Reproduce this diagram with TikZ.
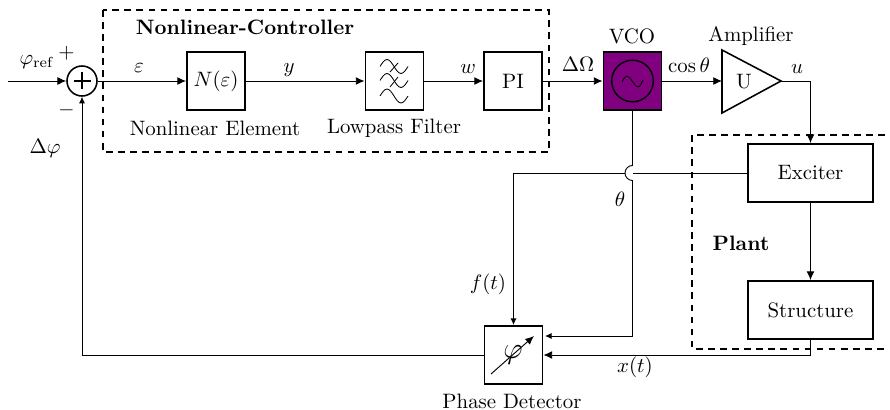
\documentclass[tikz,border=0pt]{standalone}
\usetikzlibrary{arrows.meta,positioning,calc}
\tikzset{
  x=0.48pt,y=-0.48pt,
  block/.style={draw,line width=0.75pt,inner sep=0pt,minimum width=28pt,minimum height=28pt,anchor=center},
  wide/.style={block,minimum width=60pt},
  conn/.style={line width=0.45pt,-{Latex[length=4.2pt,width=3.8pt]}},
  smallconn/.style={line width=0.45pt,-{Latex[length=3.2pt,width=3pt]}},
  plain/.style={line width=0.45pt},
  frame/.style={line width=0.6pt,dash pattern=on 3.2pt off 2.6pt},
  lbl/.style={inner sep=0pt,anchor=center},
  wave/.style={line width=0.4pt}
}
\newcommand{\swave}[2]{%
  \draw[wave] (#1-14,#2) sin (#1-7,#2-7) cos (#1,#2) sin (#1+7,#2+7) cos (#1+14,#2);}
\begin{document}
\begin{tikzpicture}
\useasboundingbox (0,0) rectangle (890,410);
% frames
\draw[frame] (103,10) rectangle (549,152);
\draw[frame] (885,135) -- (692,135) -- (692,349) -- (885,349);
% nodes
\node[draw,circle,line width=0.75pt,minimum size=14.4pt,inner sep=0pt] (sum) at (82,81) {};
\draw[line width=0.75pt] (73.5,81) -- (90.5,81) (82,72.5) -- (82,89.5);
\node[block] (nl) at (216,81) {$N(\varepsilon)$};
\node[block] (lp) at (394.5,81) {};
\node[block] (pi) at (513,81) {PI};
\node[block,fill={rgb:red,128;green,0;blue,128}] (vco) at (632.5,81) {};
\node[draw,circle,line width=0.7pt,minimum size=20pt,inner sep=0pt] (osc) at (632.5,81) {};
\draw[wave] (622,82) sin (627,76) cos (632.5,81.5) sin (638,87) cos (643,80);
\coordinate (ampA) at (722,50);
\coordinate (ampB) at (722,113);
\coordinate (ampC) at (781,81);
\draw[line width=0.75pt,line join=miter] (ampA) -- (ampC) -- (ampB) -- cycle;
\coordinate (ampIn) at (722,81);
\node[lbl] (ampU) at (744,82) {U};
\node[wide] (exc) at (810.5,173) {Exciter};
\node[wide] (str) at (810.5,310) {Structure};
\node[block] (pd) at (513.5,355) {};
% lowpass symbol
\swave{394}{66.5}
\swave{394}{80.5}
\swave{394}{96}
\draw[wave] (390,72) -- (398,63);
\draw[wave] (390,87) -- (398,77);
% phase detector symbol
\node[lbl] (phisym) at (513,355) {\Large$\varphi$};
\coordinate (pdA) at (491,374);
\coordinate (pdB) at (534,336);
\draw[line width=0.45pt,-{Latex[length=4.2pt,width=3.6pt]}] (pdA) -- (pdB);
% connectors
\coordinate (in) at (8,81);
\draw[conn] (in) -- (sum);
\draw[conn] (sum) -- (nl);
\draw[conn] (nl) -- (lp);
\draw[conn] (lp) -- (pi);
\draw[conn] (pi) -- (vco);
\draw[conn] (vco) -- (ampIn);
\coordinate (excIn) at (810.5,81);
\draw[conn] (ampC) -- (excIn) -- (exc.north);
\draw[conn] (exc) -- (str);
\coordinate (f1) at (513.5,173);
\coordinate (fEnd) at (513.5,325);
\coordinate (hopB) at (632.5,165.5);
\coordinate (hopE) at (632.5,180.5);
\draw[plain] (exc.west) -- (hopE |- exc.west);
\draw[plain] (625,173) -- (f1);
\draw[smallconn] (f1) -- (fEnd);
\coordinate (t1) at (632.5,336);
\coordinate (tEnd) at (545,336);
\draw[plain] (vco.south) -- (hopB) arc[start angle=90,end angle=270,radius=7.5*0.48pt] -- (t1);
\draw[smallconn] (t1) -- (tEnd);
\coordinate (x1) at (810.5,355);
\draw[conn] (str.south) -- (x1) -- (pd.east);
\coordinate (s1) at (82,355);
\draw[smallconn] (pd.west) -- (s1) -- (sum.south);
% labels
\node[lbl] at (37,62) {$\varphi_{\mathrm{ref}}$};
\node[lbl] at (66.5,53) {$+$};
\node[lbl] at (66.5,110) {$-$};
\node[lbl] at (45,148) {$\Delta\varphi$};
\node[lbl] at (139,68) {$\varepsilon$};
\node[lbl] at (289,70) {$y$};
\node[lbl] at (468,69) {$w$};
\node[lbl] at (578,64) {$\Delta\Omega$};
\node[lbl] at (689,65) {$\cos\theta$};
\node[lbl] at (797,69) {$u$};
\node[lbl] at (632,36) {VCO};
\node[lbl] at (751,36) {Amplifier};
\node[lbl] at (620,199) {$\theta$};
\node[lbl] at (488,284) {$f(t)$};
\node[lbl] at (635,367) {$x(t)$};
\node[lbl] at (741,243) {\textbf{Plant}};
\node[lbl] at (512,401) {Phase Detector};
\node[lbl] at (215,128) {Nonlinear Element};
\node[lbl] at (394,128) {Lowpass Filter};
\node[lbl] at (245,27) {\textbf{Nonlinear-Controller}};
\end{tikzpicture}
\end{document}
